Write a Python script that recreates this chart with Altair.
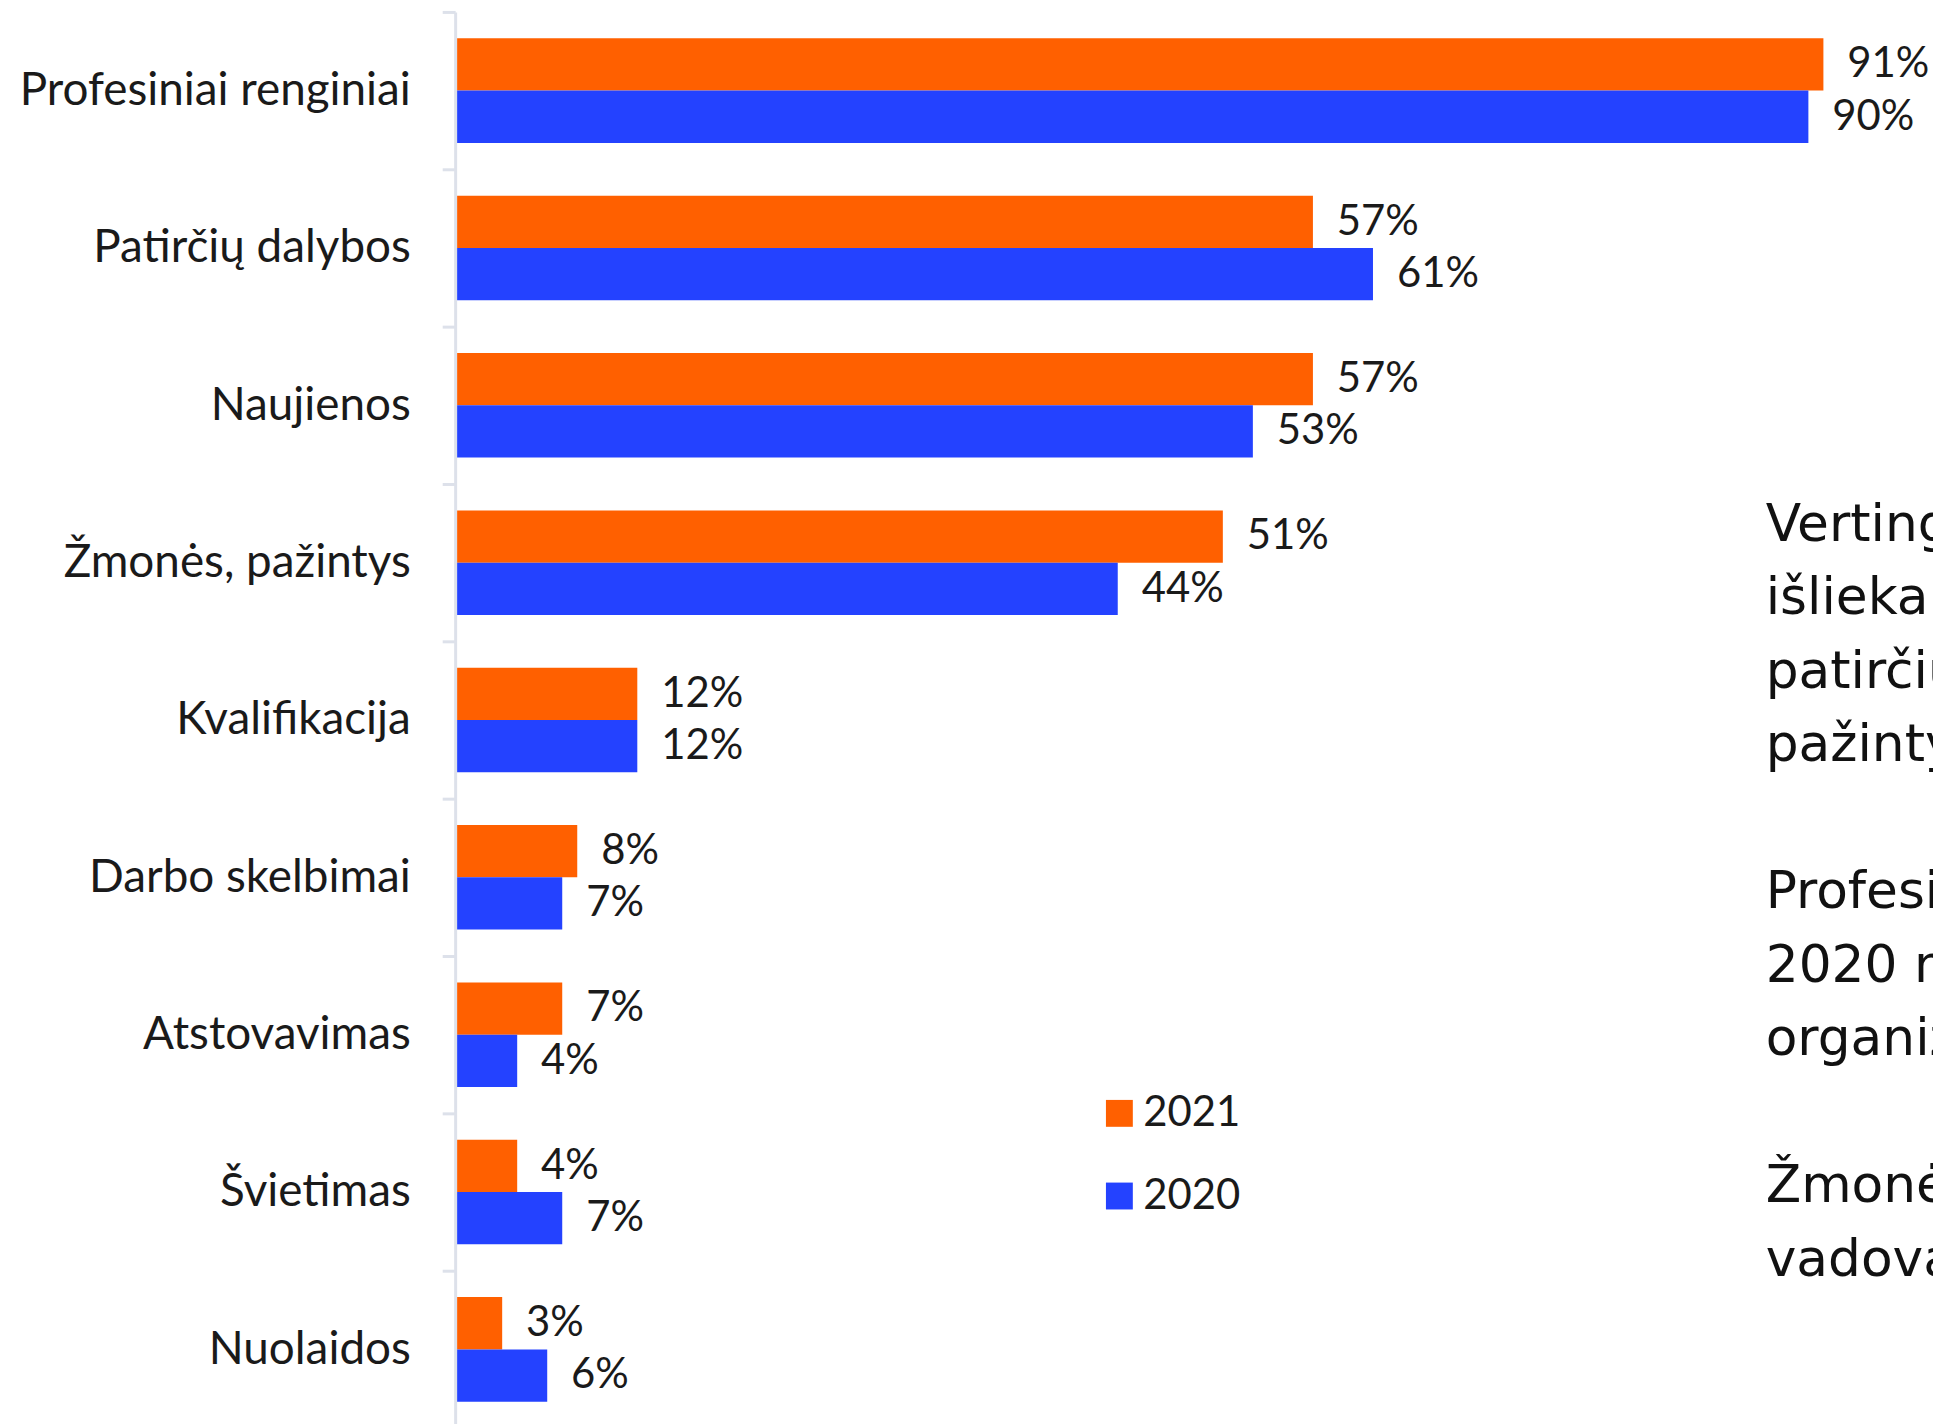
import altair as alt
import pandas as pd

categories = ["Profesiniai renginiai", "Patirčių dalybos", "Naujienos", "Žmonės, pažintys",
              "Kvalifikacija", "Darbo skelbimai", "Atstovavimas", "Švietimas", "Nuolaidos"]
years = ["2021", "2020"]
values_2021 = [91, 57, 57, 51, 12, 8, 7, 4, 3]
values_2020 = [90, 61, 53, 44, 12, 7, 4, 7, 6]
colors = ["#FF6000", "#2442FF"]

note_paragraphs = [
    ["Vertingiausia narystės nauda",
     "išlieka profesiniai renginiai,",
     "patirčių dalybos, naujienos ir",
     "pažintys."],
    ["Profesiniai renginiai, kaip ir",
     "2020 m., svarbiausi – juos",
     "organizuoja asociacijos."],
    ["Žmonės ir pažintys svarbūs",
     "vadovams."],
]

rows = []
for c, a, b in zip(categories, values_2021, values_2020):
    rows.append({"category": c, "year": "2021", "value": a, "label": f"{a}%"})
    rows.append({"category": c, "year": "2020", "value": b, "label": f"{b}%"})
df = pd.DataFrame(rows)

TEXT = "#1a1a1a"
AXIS_C = "#dde1ea"

y_enc = alt.Y(
    "category:N", sort=categories,
    scale=alt.Scale(paddingInner=0, paddingOuter=0),
    axis=alt.Axis(title=None, labelFont="Lato", labelFontSize=46, labelColor=TEXT,
                  labelPadding=32, labelLimit=600, tickSize=13, tickWidth=3, tickColor=AXIS_C,
                  domainColor=AXIS_C, domainWidth=3, offset=2, tickBand="extent", grid=False),
)
x_enc = alt.X("value:Q", scale=alt.Scale(domain=[0, 98.3], nice=False, zero=True), axis=None)
yoff = alt.YOffset("year:N", sort=years, scale=alt.Scale(paddingInner=0, paddingOuter=0.505))

base = alt.Chart(df)

bars = base.mark_bar().encode(
    y=y_enc, x=x_enc, yOffset=yoff,
    color=alt.Color("year:N", scale=alt.Scale(domain=years, range=colors),
                    legend=alt.Legend(title=None, orient="none", legendX=644, legendY=1085,
                                      symbolType="square", symbolSize=729, symbolStrokeWidth=0,
                                      labelFont="Lato", labelFontSize=42, labelColor=TEXT,
                                      labelOffset=3, rowPadding=41, padding=0)),
)

labels = base.mark_text(align="left", baseline="middle", dx=24, font="Lato",
                        fontSize=42, color=TEXT).encode(
    y=y_enc, x=x_enc, yOffset=yoff, text="label:N"
)

LINE_H = 73.8
note_layers = []
start_line = 0
for para in note_paragraphs:
    note_layers.append(
        alt.Chart(alt.Data(values=[{"t": "\n".join(para)}])).mark_text(
            align="left", baseline="alphabetic", font="DejaVu Sans", fontSize=52,
            color="#111111", lineBreak="\n", lineHeight=LINE_H, clip=True,
        ).encode(x=alt.value(1314), y=alt.value(531 + start_line * LINE_H), text="t:N")
    )
    start_line += len(para) + 1

chart = alt.layer(bars, labels, *note_layers).properties(
    width=1482, height=1422,
    padding={"left": 451, "top": 1, "right": 0, "bottom": 0},
    autosize=alt.AutoSizeParams(type="none"),
).configure_view(stroke=None)

chart.save("out.html", embed_options={"renderer": "svg", "actions": False})
